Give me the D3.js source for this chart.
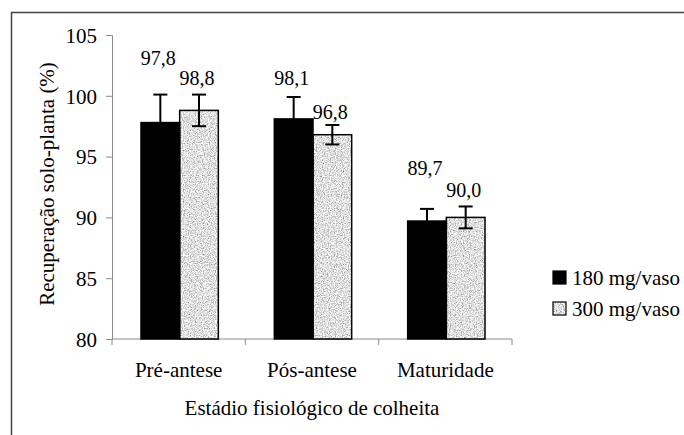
<!DOCTYPE html>
<html>
<head>
  <meta charset="utf-8">
  <title>Recuperação solo-planta</title>
  <script src="https://d3js.org/d3.v7.min.js"></script>
  <style>
    body { margin: 0; background: #fff; }
    svg text { fill: #000; }
    .axis path, .axis line { stroke: #8a8a8a; }
  </style>
</head>
<body>
  <script>
    var categories = ["Pré-antese", "Pós-antese", "Maturidade"];
    var series = ["180 mg/vaso", "300 mg/vaso"];
    var values180 = [97.8, 98.1, 89.7];
    var values300 = [98.8, 96.8, 90.0];
    var err180 = [2.3, 1.8, 1.0];
    var err300 = [1.3, 0.8, 0.9];
    var yTicks = [80, 85, 90, 95, 100, 105];

    // where each value label sits (in axis units)
    var labelAt = [[102.5, 100.9], [100.9, 98.1], [93.5, 91.7]];

    var W = 684, H = 435;
    var plot = {left: 112, right: 512, top: 35, bottom: 339};
    var serif = "Liberation Serif, Times New Roman, Times, Tinos, Nimbus Roman, Nimbus Roman No9 L, FreeSerif, DejaVu Serif, Noto Serif, serif";

    var svg = d3.select("body").append("svg")
        .attr("width", W)
        .attr("height", H)
        .style("font-family", serif);

    // grain texture for the second series
    var defs = svg.append("defs");
    var f = defs.append("filter").attr("id", "grain")
        .attr("x", 0).attr("y", 0).attr("width", 1).attr("height", 1);
    f.append("feTurbulence").attr("type", "fractalNoise")
        .attr("baseFrequency", 0.85).attr("numOctaves", 2).attr("seed", 4).attr("result", "n");
    f.append("feColorMatrix").attr("in", "n").attr("type", "matrix")
        .attr("values", "1.5 0 0 0 0  1.5 0 0 0 0  1.5 0 0 0 0  0 0 0 0 1")
        .attr("result", "g");
    f.append("feComposite").attr("in", "g").attr("in2", "SourceGraphic").attr("operator", "in");

    // frame (only left and top edges visible)
    svg.append("rect")
        .attr("x", 11.5).attr("y", 12.5)
        .attr("width", 700).attr("height", 450)
        .attr("fill", "none").attr("stroke", "#444").attr("stroke-width", 1.5);

    var x0 = d3.scaleBand().domain(categories).range([plot.left, plot.right]);
    var y = d3.scaleLinear().domain([80, 105]).range([plot.bottom, plot.top]);
    var bw = x0.bandwidth() * 0.29;

    var data = categories.map(function(c, i) {
      return [
        {cat: c, s: 0, v: values180[i], e: err180[i], lab: labelAt[i][0]},
        {cat: c, s: 1, v: values300[i], e: err300[i], lab: labelAt[i][1]}
      ];
    });
    var flat = d3.merge(data);

    function barX(d) {
      return x0(d.cat) + x0.bandwidth() / 2 + 1 - bw + d.s * bw;
    }

    // Y axis
    svg.append("g")
        .attr("class", "axis")
        .attr("transform", "translate(" + plot.left + ",0)")
        .call(d3.axisLeft(y).tickValues(yTicks).tickSize(6).tickPadding(9))
        .call(g => g.attr("font-family", null).attr("font-size", 21))
        .call(g => g.selectAll(".tick text").attr("dy", "0.35em"));

    // X axis with ticks between categories
    var xb = svg.append("g")
        .attr("class", "axis")
        .attr("transform", "translate(0," + plot.bottom + ")");
    xb.append("line")
        .attr("x1", plot.left).attr("x2", plot.right)
        .attr("stroke", "#8a8a8a");
    var bounds = categories.map(c => x0(c)).concat([plot.right]);
    xb.selectAll(".sep").data(bounds).enter().append("line")
        .attr("x1", d => d).attr("x2", d => d)
        .attr("y1", 0).attr("y2", 6)
        .attr("stroke", "#8a8a8a");
    xb.selectAll(".cat").data(categories).enter().append("text")
        .attr("x", d => x0(d) + x0.bandwidth() / 2)
        .attr("y", 38)
        .attr("text-anchor", "middle")
        .attr("font-size", 21)
        .text(d => d);

    // bars
    svg.selectAll(".bar").data(flat).enter().append("rect")
        .attr("x", barX)
        .attr("y", d => y(d.v))
        .attr("width", bw)
        .attr("height", d => plot.bottom - y(d.v))
        .attr("fill", d => d.s === 0 ? "#000" : "#fff")
        .attr("filter", d => d.s === 1 ? "url(#grain)" : null);
    svg.selectAll(".outline").data(flat).enter().append("rect")
        .attr("x", barX)
        .attr("y", d => y(d.v))
        .attr("width", bw)
        .attr("height", d => plot.bottom - y(d.v))
        .attr("fill", "none")
        .attr("stroke", "#000")
        .attr("stroke-width", 1.5);

    // error bars
    var eb = svg.selectAll(".err").data(flat).enter().append("g")
        .attr("stroke", "#000").attr("stroke-width", 2);
    eb.append("line")
        .attr("x1", d => barX(d) + bw / 2).attr("x2", d => barX(d) + bw / 2)
        .attr("y1", d => y(d.v + d.e)).attr("y2", d => y(d.v - d.e));
    eb.append("line")
        .attr("x1", d => barX(d) + bw / 2 - 7).attr("x2", d => barX(d) + bw / 2 + 7)
        .attr("y1", d => y(d.v + d.e)).attr("y2", d => y(d.v + d.e));
    eb.append("line")
        .attr("x1", d => barX(d) + bw / 2 - 7).attr("x2", d => barX(d) + bw / 2 + 7)
        .attr("y1", d => y(d.v - d.e)).attr("y2", d => y(d.v - d.e));

    // value labels
    svg.selectAll(".val").data(flat).enter().append("text")
        .attr("x", d => barX(d) + bw / 2 - 2)
        .attr("y", d => y(d.lab))
        .attr("text-anchor", "middle")
        .attr("font-size", 20)
        .text(d => d.v.toFixed(1).replace(".", ","));

    // axis titles
    svg.append("text")
        .attr("x", (plot.left + plot.right) / 2)
        .attr("y", 415)
        .attr("text-anchor", "middle")
        .attr("font-size", 21)
        .text("Estádio fisiológico de colheita");
    svg.append("text")
        .attr("transform", "translate(54," + 184 + ") rotate(-90)")
        .attr("text-anchor", "middle")
        .attr("font-size", 21)
        .text("Recuperação solo-planta (%)");

    // legend
    var lg = svg.selectAll(".leg").data(series).enter().append("g")
        .attr("transform", (d, i) => "translate(553," + (271 + i * 31) + ")");
    lg.append("rect")
        .attr("width", 13).attr("height", 13)
        .attr("fill", (d, i) => i === 0 ? "#000" : "#fff")
        .attr("filter", (d, i) => i === 1 ? "url(#grain)" : null);
    lg.append("rect")
        .attr("width", 13).attr("height", 13)
        .attr("fill", "none").attr("stroke", "#000").attr("stroke-width", 1.2);
    lg.append("text")
        .attr("x", 19).attr("y", 14)
        .attr("font-size", 21)
        .text(d => d);
  </script>
</body>
</html>
